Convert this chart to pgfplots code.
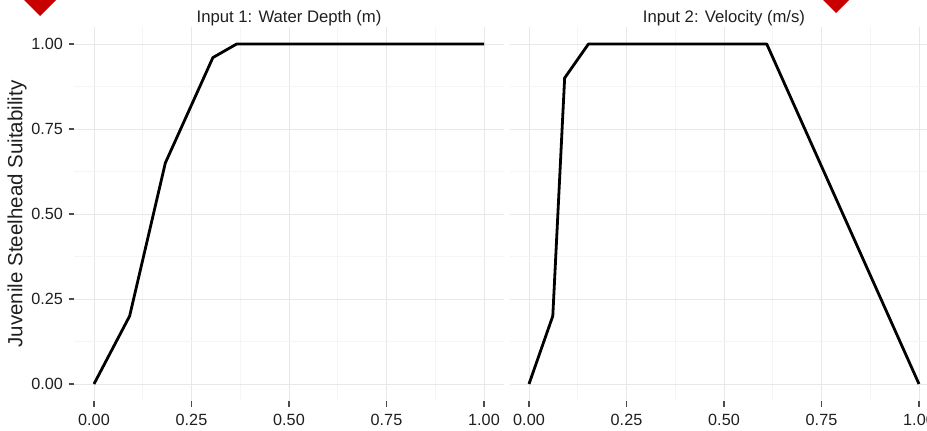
\documentclass[border=0pt]{standalone}
\usepackage{fontspec}
\setmainfont{Liberation Sans}
\usepackage{pgfplots}
\pgfplotsset{compat=1.18}
\definecolor{diam}{HTML}{C80000}
\pgfplotsset{
  facet/.style={
    scale only axis, width=429pt, height=374pt,
    anchor=south west,
    xmin=-0.05, xmax=1.05, ymin=-0.05, ymax=1.05,
    xtick={0,0.25,0.5,0.75,1}, ytick={0,0.25,0.5,0.75,1},
    minor x tick num=1, minor y tick num=1,
    grid=both,
    major grid style={color=black!9, line width=0.9pt},
    minor grid style={color=black!4, line width=0.7pt},
    axis line style={draw=none},
    tick align=outside, major tick length=5.5pt, minor tick length=0pt,
    xtick pos=bottom, ytick pos=left,
    tick style={color=black!70, line width=1.1pt},
    xticklabel style={yshift=-4pt, /pgf/number format/fixed, /pgf/number format/fixed zerofill, /pgf/number format/precision=2, /pgf/number format/assume math mode=true},
    yticklabel style={xshift=-2.5pt, /pgf/number format/fixed, /pgf/number format/fixed zerofill, /pgf/number format/precision=2, /pgf/number format/assume math mode=true},
    ticklabel style={font=\fontsize{16.2}{19}\selectfont, text=black!88},
    title style={font=\fontsize{16.7}{20}\selectfont, text=black!88, at={(0.5,1)}, anchor=base, yshift=-1pt},
  }
}
\begin{document}
\begin{tikzpicture}
\useasboundingbox (0pt,-431pt) rectangle (927pt,0pt);
\begin{axis}[facet, at={(74.5pt,-401pt)},
  title={Input 1: Water Depth (m)},
  ylabel={Juvenile Steelhead Suitability},
  ylabel style={at={(axis description cs:0,0.5)}, anchor=center, yshift=57.5pt, font=\fontsize{20.5}{24}\selectfont, text=black!88},
]
\addplot[black, line width=2.8pt, line join=round] coordinates {
(0,0) (0.0914,0.2) (0.1829,0.65) (0.3048,0.96) (0.3658,1.0) (1.0,1.0)
};
\end{axis}
\begin{axis}[facet, at={(509.5pt,-401pt)},
  title={Input 2: Velocity (m/s)},
  yticklabels={}, ytick style={draw=none},
]
\addplot[black, line width=2.8pt, line join=round] coordinates {
(0,0) (0.061,0.2) (0.0914,0.9) (0.1524,1.0) (0.6096,1.0) (1.0,0)
};
\end{axis}
\fill[diam] (23pt,1pt) -- (40pt,18pt) -- (57pt,1pt) -- (40pt,-16pt) -- cycle;
\fill[diam] (820pt,3pt) -- (836pt,19pt) -- (852pt,3pt) -- (836pt,-13pt) -- cycle;
\end{tikzpicture}
\end{document}
